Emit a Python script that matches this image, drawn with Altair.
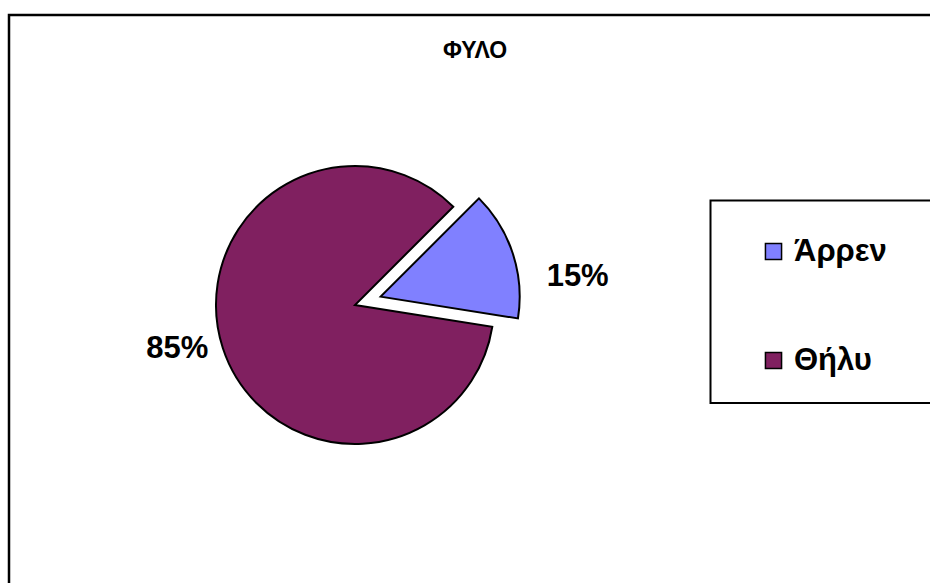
import math
import altair as alt
import pandas as pd

# ---- data ----
sexes = ["Άρρεν", "Θήλυ"]
percents = [15, 85]
labels = ["15%", "85%"]
colors = ["#8080FF", "#802060"]
order = [0, 1]
title_text = "ΦΥΛΟ"

df = pd.DataFrame({"sex": sexes, "pct": percents, "label": labels, "order": order})

# ---- layout / style ----
W, H = 930, 583
CX, CY, R = 355, 305, 139
EXPLODE = 27
START_DEG = 45
FONT = "Liberation Sans"
LABEL_SIZE = 31

start_rad = math.radians(START_DEG)
theta_scale = alt.Scale(domain=[0, 100], range=[start_rad, start_rad + 2 * math.pi])

color = alt.Color(
    "sex:N",
    scale=alt.Scale(domain=sexes, range=colors),
    legend=alt.Legend(
        title=None,
        orient="none",
        legendX=758,
        legendY=236,
        direction="vertical",
        symbolType="square",
        symbolSize=260,
        symbolStrokeColor="black",
        symbolStrokeWidth=1.5,
        symbolOpacity=1,
        labelFont=FONT,
        labelFontSize=LABEL_SIZE,
        labelFontWeight="bold",
        labelColor="black",
        labelOffset=5,
        rowPadding=77,
        padding=0,
    ),
)

base = alt.Chart(df).transform_window(
    cum="sum(pct)", sort=[alt.SortField("order")], frame=[None, 0]
).transform_calculate(
    start="datum.cum - datum.pct",
    ang=f"{start_rad} + 2 * PI * (datum.cum - datum.pct / 2) / 100",
)

# non-exploded slice (Θήλυ)
slice_main = base.transform_filter(alt.datum.sex == sexes[1]).mark_arc(
    stroke="black", strokeWidth=2
).encode(
    theta=alt.Theta("start:Q", scale=theta_scale),
    theta2="cum:Q",
    color=color,
    x=alt.value(CX),
    y=alt.value(CY),
    radius=alt.value(R),
)

# exploded slice (Άρρεν)
slice_expl = base.transform_filter(alt.datum.sex == sexes[0]).transform_calculate(
    ex=f"{CX} + {EXPLODE} * sin(datum.ang)",
    ey=f"{CY} - {EXPLODE} * cos(datum.ang)",
).mark_arc(stroke="black", strokeWidth=2).encode(
    theta=alt.Theta("start:Q", scale=theta_scale),
    theta2="cum:Q",
    color=color,
    x=alt.X("ex:Q", scale=None),
    y=alt.Y("ey:Q", scale=None),
    radius=alt.value(R),
)

LR = 150
lab_base = base.transform_calculate(
    lx=f"{CX} + {LR} * sin(datum.ang)",
    ly=f"{CY} - {LR} * cos(datum.ang)",
)
text_style = dict(font=FONT, fontSize=LABEL_SIZE, fontWeight="bold", color="black",
                  align="center", baseline="middle")
lab_expl = lab_base.transform_filter(alt.datum.sex == sexes[0]).mark_text(
    dx=80, dy=18, **text_style
).encode(x=alt.X("lx:Q", scale=None), y=alt.Y("ly:Q", scale=None), text="label:N")
lab_main = lab_base.transform_filter(alt.datum.sex == sexes[1]).mark_text(
    dx=-35, dy=-2, **text_style
).encode(x=alt.X("lx:Q", scale=None), y=alt.Y("ly:Q", scale=None), text="label:N")

one = pd.DataFrame({"t": [title_text]})
title = alt.Chart(one).mark_text(
    font=FONT, fontSize=23, fontWeight="bold", color="black", align="center", baseline="middle"
).encode(x=alt.value(475), y=alt.value(51), text="t:N")

outer = alt.Chart(one).mark_rect(fillOpacity=0, stroke="black", strokeWidth=2.5).encode(
    x=alt.value(9), x2=alt.value(1000), y=alt.value(15), y2=alt.value(700)
)
legend_box = alt.Chart(one).mark_rect(fillOpacity=0, stroke="black", strokeWidth=2).encode(
    x=alt.value(710.5), x2=alt.value(1000), y=alt.value(200.5), y2=alt.value(403)
)

chart = alt.layer(outer, legend_box, slice_main, slice_expl, lab_expl, lab_main, title).properties(
    width=W, height=H, autosize=alt.AutoSizeParams(type="none"), padding=0,
    background="white",
).configure_view(stroke=None)

chart.save("out.html", embed_options={"renderer": "svg", "actions": False})
